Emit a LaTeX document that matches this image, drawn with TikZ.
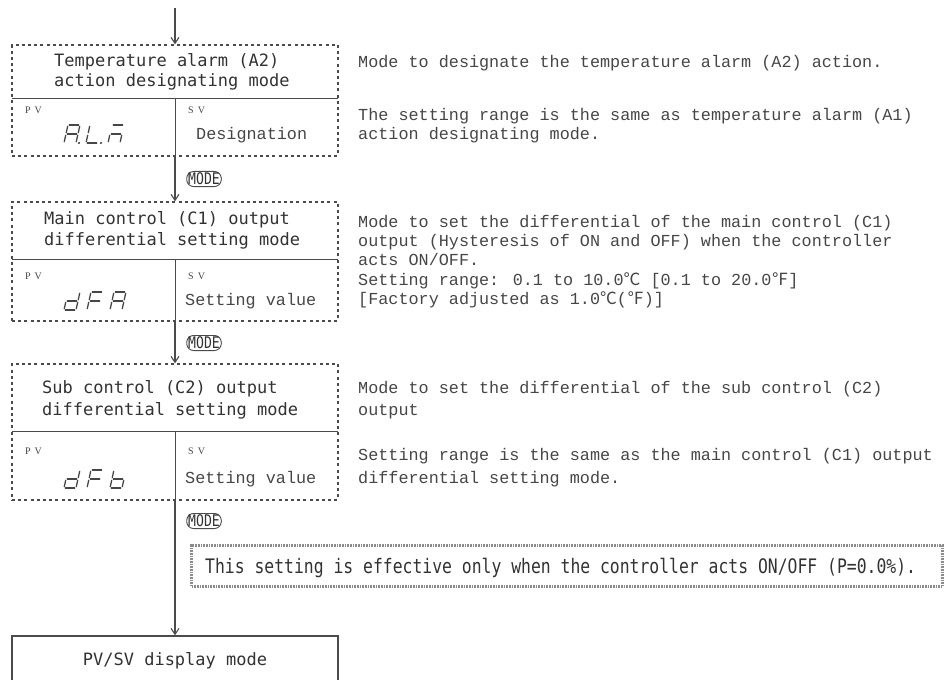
\documentclass[tikz,border=0pt]{standalone}
\usepackage{fontspec}
\usetikzlibrary{arrows.meta}
\newfontfamily\gothfont{DejaVu Sans Mono}
\newfontfamily\minfont{Liberation Mono}
\newfontfamily\condfont[FakeStretch=0.82]{DejaVu Sans Mono}
\newfontfamily\lblfont[LetterSpace=40]{Liberation Serif}
\newfontfamily\cjkfont{Noto Sans CJK JP}
\definecolor{ink}{RGB}{50,50,50}
\definecolor{ink2}{RGB}{70,70,70}
\definecolor{lineg}{RGB}{75,75,75}
\definecolor{noteg}{RGB}{140,140,140}
% seven segment pieces (w=12, h=18)
\newcommand\sA{\draw (1.3,-18)--(10.7,-18);}
\newcommand\sB{\draw (12,-16.7)--(12,-10.3);}
\newcommand\sC{\draw (12,-7.7)--(12,-1.3);}
\newcommand\sD{\draw (1.3,0)--(10.7,0);}
\newcommand\sE{\draw (0,-1.3)--(0,-7.7);}
\newcommand\sF{\draw (0,-10.3)--(0,-16.7);}
\newcommand\sG{\draw (1.3,-9)--(10.7,-9);}
\newcommand\sP{\fill (15,0) circle (1.2);}
\newcommand\sevseg[3]{\begin{scope}[shift={(#1,#2)},xslant=0.22,segline]#3\end{scope}}
\begin{document}
\begin{tikzpicture}[x=1bp,y=-1bp,
  modebox/.style={draw=lineg,line width=1.3bp,dash pattern=on 3bp off 3.2bp,
    minimum width=326bp,inner sep=0pt},
  endbox/.style={draw=lineg,line width=1.3bp,minimum width=326bp,inner sep=0pt},
  divline/.style={draw=lineg,line width=0.9bp},
  title/.style={anchor=base west,font=\gothfont\fontsize{17bp}{21bp}\selectfont,text=ink,inner sep=0pt},
  desc/.style={anchor=base west,font=\minfont\fontsize{16.8bp}{20bp}\selectfont,text=ink2,inner sep=0pt},
  smalllbl/.style={anchor=base west,font=\lblfont\fontsize{10bp}{11bp}\selectfont,text=ink2,inner sep=0pt},
  flow/.style={draw=lineg,line width=1.1bp,-{Straight Barb[length=6bp,width=8bp]}},
  modekey/.style={draw=lineg,line width=0.9bp,rounded corners=7bp,
    font=\condfont\fontsize{16bp}{16bp}\selectfont,text=ink,inner xsep=1.5bp,inner ysep=1.5bp},
  notebox/.style={draw=noteg,line width=3bp,dash pattern=on 0.8bp off 0.8bp,inner sep=0pt},
  notetxt/.style={anchor=base west,font=\condfont\fontsize{20bp}{22bp}\selectfont,text=ink,inner sep=0pt},
  segline/.style={draw=ink2,fill=ink2,line width=1.3bp,line cap=round}
]
\useasboundingbox (0,0) rectangle (944,680);
\clip (0,0) rectangle (944,680);

% boxes
\coordinate (start) at (175,8);
\node[modebox,minimum height=111bp] (b1) at (175,100.5) {};
\node[modebox,minimum height=119bp] (b2) at (175,261.5) {};
\node[modebox,minimum height=136bp] (b3) at (175,432) {};
\node[endbox,minimum height=64bp] (b4) at (175,668) {};

% internal dividers
\draw[divline] (12,98) -- (338,98);
\draw[divline] (175,98) -- (b1.south);
\draw[divline] (12,259) -- (338,259);
\draw[divline] (175,259) -- (b2.south);
\draw[divline] (12,431) -- (338,431);
\draw[divline] (175,431) -- (b3.south);

% connectors
\draw[flow] (start) -- (b1.north);
\draw[flow] (b1.south) -- (b2.north);
\draw[flow] (b2.south) -- (b3.north);
\draw[flow] (b3.south) -- (b4.north);

\node[modekey] (k1) at (204,179) {MODE};
\node[modekey] (k2) at (204,343) {MODE};
\node[modekey] (k3) at (204,521) {MODE};

% box 1
\node[title] (t1a) at (54,67) {Temperature alarm (A2)};
\node[title] (t1b) at (54,87) {action designating mode};
\node[smalllbl] (pv1) at (25,114) {PV};
\node[smalllbl] (sv1) at (188,114) {SV};
\node[desc] (v1) at (196,140) {Designation};
\sevseg{64}{143}{\sA\sB\sC\sE\sF\sG\sP}
\sevseg{86}{143}{\sD\sE\sF\sP}
\sevseg{108}{143}{\sA\sC\sE\sG}

% box 2
\node[title] (t2a) at (44,224) {Main control (C1) output};
\node[title] (t2b) at (44,245) {differential setting mode};
\node[smalllbl] (pv2) at (25,279) {PV};
\node[smalllbl] (sv2) at (188,279) {SV};
\node[desc] (v2) at (185,305) {Setting value};
\sevseg{64}{310}{\sB\sC\sD\sE\sG}
\sevseg{87}{310}{\sA\sE\sF\sG}
\sevseg{110}{310}{\sA\sB\sC\sE\sF\sG}

% box 3
\node[title] (t3a) at (42,393) {Sub control (C2) output};
\node[title] (t3b) at (42,415) {differential setting mode};
\node[smalllbl] (pv3) at (25,454) {PV};
\node[smalllbl] (sv3) at (188,454) {SV};
\node[desc] (v3) at (185,483) {Setting value};
\sevseg{64}{488}{\sB\sC\sD\sE\sG}
\sevseg{87}{488}{\sA\sE\sF\sG}
\sevseg{110}{488}{\sC\sD\sE\sF\sG}

% box 4
\node[anchor=base,font=\gothfont\fontsize{17bp}{21bp}\selectfont,text=ink,inner sep=0pt] (t4) at (175,665) {PV/SV display mode};

% right descriptions
\node[desc] (d1) at (358,68) {Mode to designate the temperature alarm (A2) action.};
\node[desc] (d2) at (358,121) {The setting range is the same as temperature alarm (A1)};
\node[desc] (d3) at (358,140) {action designating mode.};

\node[desc] (e1) at (358,227) {Mode to set the differential of the main control (C1)};
\node[desc] (e2) at (358,246) {output (Hysteresis of ON and OFF) when the controller};
\node[desc] (e3) at (358,265) {acts ON/OFF.};
\node[desc] (e4) at (358,285) {Setting range: 0.1 to 10.0{\cjkfont ℃} [0.1 to 20.0{\cjkfont ℉}]};
\node[desc] (e5) at (358,304) {[Factory adjusted as 1.0{\cjkfont ℃}({\cjkfont ℉})]};

\node[desc] (f1) at (358,393) {Mode to set the differential of the sub control (C2)};
\node[desc] (f2) at (358,415) {output};
\node[desc] (f3) at (358,460) {Setting range is the same as the main control (C1) output};
\node[desc] (f4) at (358,483) {differential setting mode.};

% note
\node[notebox,minimum width=750bp,minimum height=41bp] (nb) at (567,565.5) {};
\node[notetxt] (nt) at (205,573) {This setting is effective only when the controller acts ON/OFF (P=0.0\%).};
\end{tikzpicture}
\end{document}
